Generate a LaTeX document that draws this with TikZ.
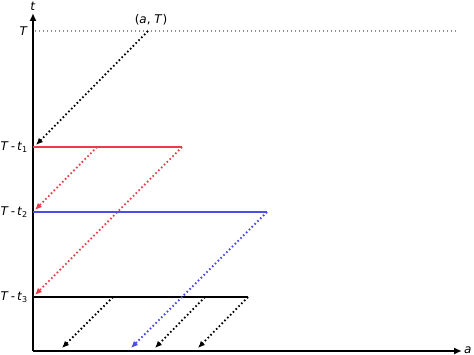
\documentclass[tikz,border=0pt]{standalone}
\usepackage{fontspec}
\setmainfont{DejaVu Sans}
\usetikzlibrary{arrows.meta}
\definecolor{lvlred}{RGB}{230,62,72}
\definecolor{lvlblue}{RGB}{76,76,230}
\begin{document}
\begin{tikzpicture}[
    x=1pt, y=-1pt,
    font=\fontsize{12}{14}\selectfont,
    axis/.style={-{Latex[length=8pt,width=7pt]}, line width=2.2pt, draw=black},
    level/.style={line width=2pt},
    ray/.style={-{Latex[length=7pt,width=6pt]}, line width=1.8pt, dash pattern=on 1.6pt off 2.4pt},
    guide/.style={line width=1.3pt, draw=black!45, dash pattern=on 1.4pt off 2.6pt},
    lbl/.style={anchor=east, inner sep=1pt}
]
\useasboundingbox (0,0) rectangle (474,355);

% 1. Axes
\coordinate (o) at (33,351);
\coordinate (ttop) at (33,13);
\coordinate (aend) at (462,351);
\draw[axis] (o) -- (ttop);
\draw[axis] (o) -- (aend);
\node[anchor=south, inner sep=0pt] (tlab) at (33,11) {\textit{t}};
\node[anchor=base west, inner sep=0pt] (alab) at (464,353.5) {\textit{a}};

% 2. Level T and starting point
\coordinate (yT) at (35,31);
\coordinate (rT) at (456,31);
\coordinate (aT) at (148,31);
\draw[guide] (yT) -- (rT);
\node[lbl] (lT) at (29,31) {\textit{T}};
\node (aTlab) at (151,20) {(\textit{a}, \textit{T})};

% -- Level T-t1 (red) --
\coordinate (y1) at (33,147);
\coordinate (r1) at (182,147);
\coordinate (m1) at (97,147);
\node[lbl] (l1) at (29,147) {\textit{T}\,-\,\textit{t}\textsubscript{1}};
\draw[ray] (aT) -- (36,145) coordinate (h1);
\draw[level, draw=lvlred] (y1) -- (r1);

% -- Level T-t2 (blue) --
\coordinate (y2) at (33,212);
\coordinate (r2) at (267,212);
\node[lbl] (l2) at (29,212) {\textit{T}\,-\,\textit{t}\textsubscript{2}};
\coordinate (h2a) at (35,210);
\coordinate (h2b) at (35,295);
\draw[ray, draw=lvlred, color=lvlred] (m1) -- (h2a);
\draw[ray, draw=lvlred, color=lvlred] (r1) -- (h2b);
\draw[level, draw=lvlblue] (y2) -- (r2);

% -- Level T-t3 (black) --
\coordinate (y3) at (33,297);
\coordinate (r3) at (248,297);
\coordinate (m3a) at (113,297);
\coordinate (m3b) at (205,297);
\node[lbl] (l3) at (29,297) {\textit{T}\,-\,\textit{t}\textsubscript{3}};
\draw[level] (y3) -- (r3);

% -- Arrivals on the a axis --
\coordinate (e1) at (62,348);
\coordinate (e2) at (131,348);
\coordinate (e3) at (155,348);
\coordinate (e4) at (198,348);
\draw[ray] (m3a) -- (e1);
\draw[ray, draw=lvlblue, color=lvlblue] (r2) -- (e2);
\draw[ray] (m3b) -- (e3);
\draw[ray] (r3) -- (e4);

\end{tikzpicture}
\end{document}
